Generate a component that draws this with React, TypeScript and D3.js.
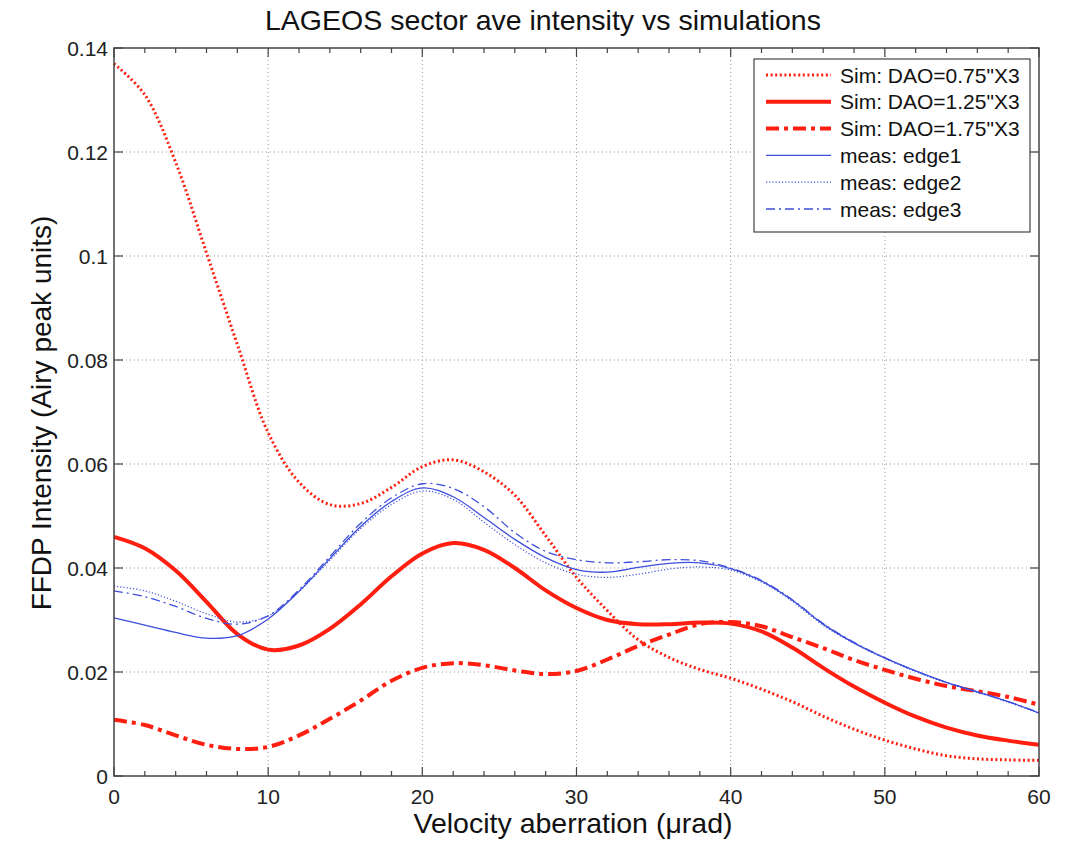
import * as d3 from "d3";

// x positions (µrad)
const xVals = d3.range(0, 61, 2);

// Sim series
const sim075 = [0.137, 0.131, 0.118, 0.1006, 0.083, 0.066, 0.0565, 0.0522, 0.0524, 0.0555, 0.0595, 0.0608, 0.0585, 0.054, 0.0462, 0.0382, 0.0318, 0.0262, 0.0228, 0.0205, 0.0188, 0.0167, 0.0143, 0.0115, 0.009, 0.0069, 0.0052, 0.0039, 0.0033, 0.0031, 0.003];
const sim125 = [0.046, 0.0438, 0.0395, 0.0335, 0.0273, 0.0243, 0.0251, 0.0283, 0.033, 0.0384, 0.0428, 0.0448, 0.0435, 0.04, 0.0357, 0.0323, 0.03, 0.0292, 0.0292, 0.0295, 0.0293, 0.0278, 0.0247, 0.0208, 0.0172, 0.0141, 0.0114, 0.0093, 0.0078, 0.0068, 0.006];
const sim175 = [0.0108, 0.0098, 0.0078, 0.006, 0.0052, 0.0056, 0.0078, 0.011, 0.0145, 0.0183, 0.0208, 0.0217, 0.0213, 0.0203, 0.0196, 0.0202, 0.0224, 0.025, 0.0272, 0.0292, 0.0296, 0.0288, 0.0267, 0.0246, 0.0223, 0.0204, 0.0187, 0.0173, 0.0163, 0.0152, 0.0137];

// measured
const edge1 = [0.0304, 0.029, 0.0276, 0.0265, 0.027, 0.0302, 0.0355, 0.0418, 0.048, 0.0528, 0.0554, 0.0537, 0.0497, 0.0455, 0.042, 0.0397, 0.0392, 0.0401, 0.0409, 0.041, 0.0399, 0.0375, 0.0338, 0.0292, 0.0256, 0.0227, 0.0202, 0.018, 0.0162, 0.0143, 0.0121];
const edge2 = [0.0365, 0.0356, 0.0336, 0.0312, 0.0296, 0.0308, 0.0355, 0.0415, 0.0476, 0.0522, 0.0548, 0.0532, 0.0488, 0.0445, 0.041, 0.0388, 0.0382, 0.0388, 0.0398, 0.0402, 0.0396, 0.0373, 0.0336, 0.029, 0.0255, 0.0226, 0.0201, 0.0179, 0.0161, 0.0142, 0.0121];
const edge3 = [0.0356, 0.0345, 0.0326, 0.0303, 0.0292, 0.0308, 0.0358, 0.0422, 0.0486, 0.0535, 0.0562, 0.0553, 0.0518, 0.0468, 0.0432, 0.0416, 0.041, 0.0412, 0.0416, 0.0414, 0.04, 0.0376, 0.0339, 0.0293, 0.0257, 0.0227, 0.0202, 0.018, 0.0162, 0.0143, 0.0122];

const xTicks = [0, 10, 20, 30, 40, 50, 60];
const yTicks = [0, 0.02, 0.04, 0.06, 0.08, 0.1, 0.12, 0.14];
const yTickLabels = ["0", "0.02", "0.04", "0.06", "0.08", "0.1", "0.12", "0.14"];

const RED = "#ff1e0f";
const BLUE = "#3d4fdc";

const series = [
  { name: "Sim: DAO=0.75\"X3", data: sim075, color: RED, width: 3, dash: "2,2.6" },
  { name: "Sim: DAO=1.25\"X3", data: sim125, color: RED, width: 4 },
  { name: "Sim: DAO=1.75\"X3", data: sim175, color: RED, width: 4, dash: "13,5,4,5" },
  { name: "meas: edge1", data: edge1, color: BLUE, width: 1.3 },
  { name: "meas: edge2", data: edge2, color: BLUE, width: 1.2, dash: "1.2,2" },
  { name: "meas: edge3", data: edge3, color: BLUE, width: 1.3, dash: "9,4,2,4" },
];

const App = () => {
  const width = 1066;
  const height = 846;
  const left = 114, right = 1039, top = 48, bottom = 776;

  const x = d3.scaleLinear().domain([0, 60]).range([left, right]);
  const y = d3.scaleLinear().domain([0, 0.14]).range([bottom, top]);

  const line = d3
    .line<number>()
    .x((d, i) => x(xVals[i]))
    .y((d) => y(d))
    .curve(d3.curveCatmullRom.alpha(0.5));

  const minor = d3.range(0, 61, 2);
  const font = "Liberation Sans, Arial, Helvetica, sans-serif";

  return (
    <svg width={width} height={height} style={{ position: "absolute", left: 0, top: 0, background: "#fff" }}>
      {/* grid */}
      {xTicks.slice(1, -1).map((t) => (
        <line key={"gx" + t} x1={x(t)} x2={x(t)} y1={top} y2={bottom} stroke="#999" strokeWidth={1} strokeDasharray="1,3" />
      ))}
      {yTicks.slice(1, -1).map((t) => (
        <line key={"gy" + t} x1={left} x2={right} y1={y(t)} y2={y(t)} stroke="#999" strokeWidth={1} strokeDasharray="1,3" />
      ))}

      {/* series */}
      <g>
        {series.map((s) => (
          <path key={s.name} d={line(s.data) || ""} fill="none" stroke={s.color} strokeWidth={s.width} strokeDasharray={s.dash} />
        ))}
      </g>

      {/* frame */}
      <rect x={left} y={top} width={right - left} height={bottom - top} fill="none" stroke="#444" strokeWidth={1.5} />

      {/* ticks */}
      {minor.map((t) => {
        const len = t % 10 === 0 ? 9 : 5;
        return (
          <g key={"mt" + t}>
            <line x1={x(t)} x2={x(t)} y1={bottom} y2={bottom - len} stroke="#444" strokeWidth={1.2} />
            <line x1={x(t)} x2={x(t)} y1={top} y2={top + len} stroke="#444" strokeWidth={1.2} />
          </g>
        );
      })}
      {yTicks.map((t) => (
        <g key={"yt" + t}>
          <line x1={left} x2={left + 9} y1={y(t)} y2={y(t)} stroke="#444" strokeWidth={1.2} />
          <line x1={right} x2={right - 9} y1={y(t)} y2={y(t)} stroke="#444" strokeWidth={1.2} />
        </g>
      ))}

      {/* tick labels */}
      {xTicks.map((t) => (
        <text key={"xl" + t} x={x(t)} y={bottom + 28} textAnchor="middle" fontFamily={font} fontSize={21} fill="#222">
          {t}
        </text>
      ))}
      {yTicks.map((t, i) => (
        <text key={"yl" + t} x={left - 6} y={y(t) + 7.5} textAnchor="end" fontFamily={font} fontSize={21} fill="#222">
          {yTickLabels[i]}
        </text>
      ))}

      {/* titles */}
      <text x={543} y={30} textAnchor="middle" fontFamily={font} fontSize={28.5} fill="#111">
        LAGEOS sector ave intensity vs simulations
      </text>
      <text x={573} y={833} textAnchor="middle" fontFamily={font} fontSize={28.5} fill="#111">
        Velocity aberration (μrad)
      </text>
      <text
        transform={`translate(51, ${(top + bottom) / 2 + 1}) rotate(-90)`}
        textAnchor="middle"
        fontFamily={font}
        fontSize={28}
        fill="#111"
      >
        FFDP Intensity (Airy peak units)
      </text>

      {/* legend */}
      <rect x={754} y={59} width={276} height={173} fill="#fff" stroke="#444" strokeWidth={1.2} />
      {series.map((s, i) => {
        const ly = 75 + i * 26.8;
        return (
          <g key={"lg" + s.name}>
            <line x1={766} x2={831} y1={ly} y2={ly} stroke={s.color} strokeWidth={s.width} strokeDasharray={s.dash} />
            <text x={840} y={ly + 7.5} fontFamily={font} fontSize={21} fill="#111">
              {s.name}
            </text>
          </g>
        );
      })}
    </svg>
  );
};

export default App;
